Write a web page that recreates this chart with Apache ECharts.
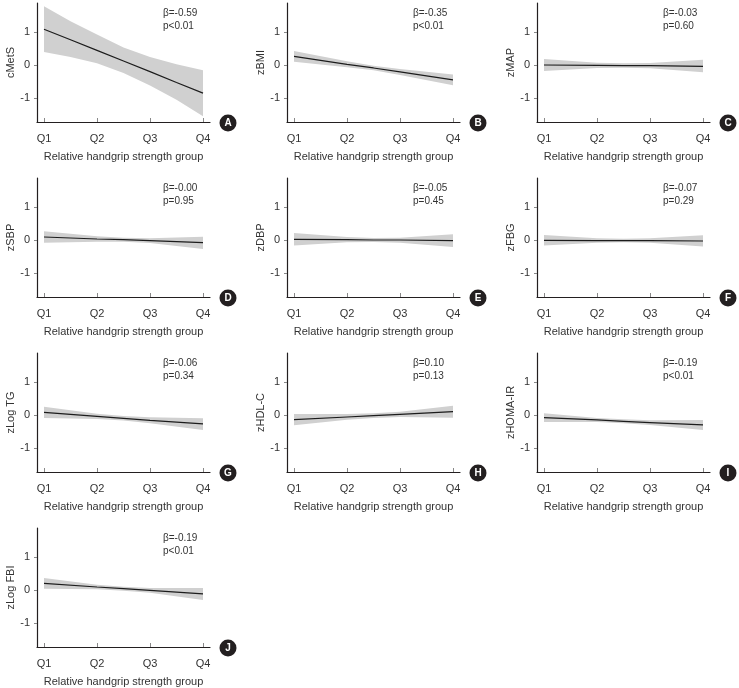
<!DOCTYPE html>
<html>
<head>
<meta charset="utf-8">
<script src="https://cdn.jsdelivr.net/npm/echarts@6/dist/echarts.min.js"></script>
<style>
html, body {margin: 0; padding: 0; background: #fff;}
#chart {width: 739px; height: 688px;}
</style>
</head>
<body>
<div id="chart"></div>
<script>
var xA = [1, 1.5, 2, 2.5, 3, 3.5, 4];
var xQ = [1, 2, 2.5, 3, 4];
var qLabels = ['Q1', 'Q2', 'Q3', 'Q4'];
var qTicks = [1, 2, 3, 4];
var yTicks = [-1, 0, 1];

var names = ['cMetS', 'zBMI', 'zMAP', 'zSBP', 'zDBP', 'zFBG', 'zLog TG', 'zHDL-C', 'zHOMA-IR', 'zLog FBI'];
var letters = ['A', 'B', 'C', 'D', 'E', 'F', 'G', 'H', 'I', 'J'];
var betas = ['β=-0.59', 'β=-0.35', 'β=-0.03', 'β=-0.00', 'β=-0.05', 'β=-0.07', 'β=-0.06', 'β=0.10', 'β=-0.19', 'β=-0.19'];
var pvals = ['p<0.01', 'p<0.01', 'p=0.60', 'p=0.95', 'p=0.45', 'p=0.29', 'p=0.34', 'p=0.13', 'p<0.01', 'p<0.01'];

// A: cMetS (on xA)
var fitA = [1.08, 0.76, 0.44, 0.12, -0.20, -0.53, -0.85];
var upA  = [1.77, 1.32, 0.92, 0.53, 0.24, 0.02, -0.16];
var loA  = [0.39, 0.24, 0.05, -0.24, -0.62, -1.05, -1.55];
// the rest on xQ
var fitB = [0.26, 0.02, -0.09, -0.21, -0.45];
var upB  = [0.42, 0.11, -0.02, -0.12, -0.29];
var loB  = [0.10, -0.07, -0.16, -0.30, -0.61];
var fitC = [0.00, -0.01, -0.02, -0.02, -0.04];
var upC  = [0.18, 0.07, 0.05, 0.06, 0.16];
var loC  = [-0.18, -0.09, -0.08, -0.10, -0.22];
var fitD = [0.09, 0.03, 0.01, -0.02, -0.08];
var upD  = [0.26, 0.11, 0.07, 0.05, 0.10];
var loD  = [-0.08, -0.05, -0.05, -0.09, -0.27];
var fitE = [0.02, 0.01, 0.00, 0.00, -0.02];
var upE  = [0.21, 0.09, 0.06, 0.07, 0.17];
var loE  = [-0.17, -0.07, -0.06, -0.08, -0.21];
var fitF = [-0.01, -0.02, -0.02, -0.02, -0.03];
var upF  = [0.15, 0.05, 0.04, 0.05, 0.14];
var loF  = [-0.17, -0.08, -0.07, -0.08, -0.20];
var fitG = [0.08, -0.04, -0.10, -0.16, -0.27];
var upG  = [0.25, 0.04, -0.03, -0.07, -0.10];
var loG  = [-0.09, -0.12, -0.17, -0.25, -0.45];
var fitH = [-0.14, -0.06, -0.02, 0.02, 0.10];
var upH  = [0.03, 0.03, 0.05, 0.10, 0.28];
var loH  = [-0.31, -0.14, -0.09, -0.06, -0.08];
var fitI = [-0.08, -0.15, -0.19, -0.23, -0.30];
var upI  = [0.05, -0.09, -0.13, -0.16, -0.15];
var loI  = [-0.21, -0.21, -0.25, -0.30, -0.45];
var fitJ = [0.20, 0.09, 0.04, -0.01, -0.12];
var upJ  = [0.36, 0.16, 0.10, 0.06, 0.06];
var loJ  = [0.04, 0.02, -0.02, -0.08, -0.30];

var panels = [
    {x: xA, fit: fitA, up: upA, lo: loA},
    {x: xQ, fit: fitB, up: upB, lo: loB},
    {x: xQ, fit: fitC, up: upC, lo: loC},
    {x: xQ, fit: fitD, up: upD, lo: loD},
    {x: xQ, fit: fitE, up: upE, lo: loE},
    {x: xQ, fit: fitF, up: upF, lo: loF},
    {x: xQ, fit: fitG, up: upG, lo: loG},
    {x: xQ, fit: fitH, up: upH, lo: loH},
    {x: xQ, fit: fitI, up: upI, lo: loI},
    {x: xQ, fit: fitJ, up: upJ, lo: loJ}
];

var font = '"Liberation Sans", Arial, sans-serif';
var textColor = '#333';
var axisColor = '#231f20';
var gridW = 173, gridH = 119;

var grids = [], xAxes = [], yAxes = [], series = [], graphics = [];

function addPanel(k, p) {
    var col = k % 3, row = Math.floor(k / 3);
    var gLeft = 37 + 250 * col;
    var gTop = 3 + 175 * row;
    grids.push({left: gLeft, top: gTop, width: gridW, height: gridH});
    xAxes.push({
        gridIndex: k, type: 'value', min: 0.868, max: 4.132,
        name: 'Relative handgrip strength group', nameLocation: 'middle', nameGap: 29,
        nameTextStyle: {fontFamily: font, fontSize: 11, color: textColor},
        axisLine: {show: true, onZero: false, lineStyle: {color: axisColor, width: 1.2}},
        axisTick: {show: true, inside: true, length: 4, customValues: qTicks, lineStyle: {color: '#888'}},
        axisLabel: {customValues: qTicks, margin: 11, fontFamily: font, fontSize: 11, color: textColor,
            formatter: function (v) { return qLabels[Math.round(v) - 1]; }},
        splitLine: {show: false}
    });
    yAxes.push({
        gridIndex: k, type: 'value', min: -1.72, max: 1.87,
        name: names[k], nameLocation: 'middle', nameGap: 16,
        nameTextStyle: {fontFamily: font, fontSize: 11, color: textColor},
        axisLine: {show: true, onZero: false, lineStyle: {color: axisColor, width: 1.2}},
        axisTick: {show: true, length: 3, customValues: yTicks, lineStyle: {color: '#888'}},
        axisLabel: {customValues: yTicks, margin: 7, fontFamily: font, fontSize: 11, color: textColor},
        splitLine: {show: false}
    });

    // confidence band drawn as one polygon through the axes' coordinates
    series.push({
        type: 'custom', xAxisIndex: k, yAxisIndex: k, silent: true, z: 1,
        data: p.x.map(function (x, i) { return [x, p.lo[i], p.up[i]]; }),
        renderItem: function (params, api) {
            if (params.dataIndex !== 0) return null;
            var pts = [];
            for (var i = 0; i < p.x.length; i++) pts.push(api.coord([p.x[i], p.up[i]]));
            for (var j = p.x.length - 1; j >= 0; j--) pts.push(api.coord([p.x[j], p.lo[j]]));
            return {type: 'polygon', shape: {points: pts}, style: {fill: '#d0d0d0', stroke: null}};
        }
    });
    series.push({
        type: 'line', xAxisIndex: k, yAxisIndex: k, z: 3,
        data: p.x.map(function (x, i) { return [x, p.fit[i]]; }),
        showSymbol: false, silent: true,
        lineStyle: {color: '#1c1c1c', width: 1.2}
    });

    graphics.push({type: 'text', left: gLeft + 126, top: gTop + 5,
        style: {text: betas[k], font: '10px ' + font, fill: textColor}});
    graphics.push({type: 'text', left: gLeft + 126, top: gTop + 18,
        style: {text: pvals[k], font: '10px ' + font, fill: textColor}});
    graphics.push({type: 'circle', shape: {cx: gLeft + gridW + 18, cy: gTop + gridH + 1, r: 8.5},
        style: {fill: '#231f20'}});
    graphics.push({type: 'text', x: gLeft + gridW + 18, y: gTop + gridH + 1,
        style: {text: letters[k], font: 'bold 10px ' + font, fill: '#fff', align: 'center', verticalAlign: 'middle'}});
}

for (var k = 0; k < panels.length; k++) addPanel(k, panels[k]);

var myChart = echarts.init(document.getElementById('chart'));
var option = {
    animation: false,
    grid: grids,
    xAxis: xAxes,
    yAxis: yAxes,
    series: series,
    graphic: graphics
};
myChart.setOption(option);
</script>
</body>
</html>
